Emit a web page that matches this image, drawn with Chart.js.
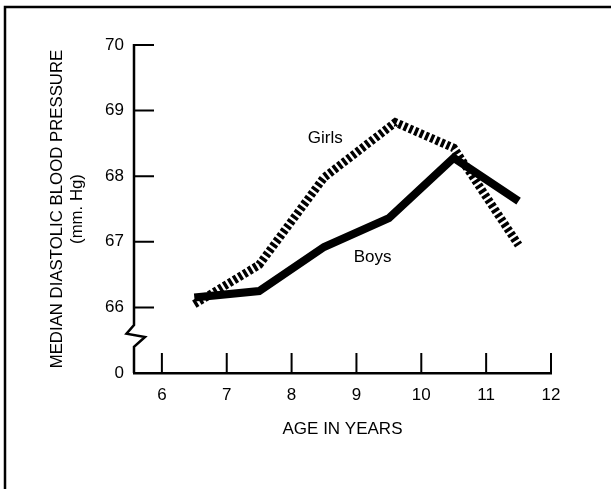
<!DOCTYPE html>
<html>
<head>
<meta charset="utf-8">
<script src="https://cdn.jsdelivr.net/npm/chart.js@4"></script>
<style>
  body{margin:0;background:#fff;}
  canvas{display:block;}
</style>
</head>
<body>
<canvas id="bpChart" width="611" height="489"></canvas>
<script>
// values (age in years, median diastolic pressure mm Hg)
const boysAges = [6.5, 7.5, 8.5, 9.5, 10.5, 11.5];
const boysPressure = [66.15, 66.25, 66.92, 67.36, 68.28, 67.62];
const girlsAges = [6.5, 7.5, 8.5, 9.6, 10.5, 11.5];
const girlsPressure = [66.05, 66.65, 67.98, 68.82, 68.43, 66.95];

const xTicks = [6, 7, 8, 9, 10, 11, 12];
const yTicks = [65, 66, 67, 68, 69, 70]; // 65 sits below the axis break, printed as "0"

const seriesLabels = [
  { text: 'Girls', x: 8.52, y: 68.58 },
  { text: 'Boys', x: 9.25, y: 66.76 }
];

const FONT = '"Liberation Sans", Arial, Helvetica, sans-serif';
const toPts = (xs, ys) => xs.map((x, i) => ({ x, y: ys[i] }));

// frame, broken y axis, inward ticks and in-plot labels
const decor = {
  id: 'decor',
  beforeDraw(chart){
    const ctx = chart.ctx;
    ctx.save();
    ctx.fillStyle = '#fff';
    ctx.fillRect(0, 0, chart.width, chart.height);
    ctx.strokeStyle = '#000';
    ctx.lineWidth = 2.5;
    ctx.beginPath();
    ctx.moveTo(5, chart.height);
    ctx.lineTo(5, 7);
    ctx.lineTo(chart.width, 7);
    ctx.stroke();
    ctx.restore();
  },
  afterDraw(chart){
    const ctx = chart.ctx;
    const xs = chart.scales.x, ys = chart.scales.y;
    const x0 = chart.chartArea.left;
    const yTop = ys.getPixelForValue(70);
    const y66 = ys.getPixelForValue(66);
    const yZero = ys.getPixelForValue(65);
    const span = yZero - y66;
    ctx.save();
    ctx.strokeStyle = '#000';
    ctx.lineWidth = 2.5;
    ctx.lineJoin = 'miter';
    // y axis with zig-zag break
    ctx.beginPath();
    ctx.moveTo(x0, yTop - 1);
    ctx.lineTo(x0, y66 + span * 0.27);
    ctx.lineTo(x0 - 7.5, y66 + span * 0.40);
    ctx.lineTo(x0 + 11, y66 + span * 0.45);
    ctx.lineTo(x0, y66 + span * 0.60);
    ctx.lineTo(x0, yZero);
    ctx.stroke();
    // inward tick marks
    ctx.lineWidth = 2;
    ctx.beginPath();
    yTicks.filter(v => v > 65).forEach(v => {
      const py = ys.getPixelForValue(v);
      ctx.moveTo(x0, py);
      ctx.lineTo(x0 + 20, py);
    });
    xTicks.forEach(v => {
      const px = xs.getPixelForValue(v);
      ctx.moveTo(px, yZero);
      ctx.lineTo(px, yZero - 20);
    });
    ctx.stroke();
    // series names
    ctx.fillStyle = '#000';
    ctx.font = '17px ' + FONT;
    ctx.textAlign = 'center';
    ctx.textBaseline = 'middle';
    seriesLabels.forEach(l => {
      ctx.fillText(l.text, xs.getPixelForValue(l.x), ys.getPixelForValue(l.y));
    });
    ctx.restore();
  }
};

const chart = new Chart(document.getElementById('bpChart').getContext('2d'), {
  type: 'line',
  data: {
    datasets: [
      {
        label: 'Girls',
        data: toPts(girlsAges, girlsPressure),
        borderColor: '#000',
        borderWidth: 8.5,
        borderDash: [3.4, 2.4],
        borderCapStyle: 'butt',
        pointRadius: 0,
        tension: 0,
        order: 0
      },
      {
        label: 'Boys',
        data: toPts(boysAges, boysPressure),
        borderColor: '#000',
        borderWidth: 8,
        borderCapStyle: 'butt',
        borderJoinStyle: 'miter',
        pointRadius: 0,
        tension: 0,
        order: 1
      }
    ]
  },
  options: {
    responsive: false,
    animation: false,
    layout: { padding: { left: 0, top: 45, right: 60, bottom: 0 } },
    plugins: { legend: { display: false }, tooltip: { enabled: false } },
    scales: {
      x: {
        type: 'linear',
        min: 5.57,
        max: 12,
        afterBuildTicks: s => { s.ticks = xTicks.map(v => ({ value: v })); },
        afterFit: s => { s.height = 116; },
        grid: { display: false, drawTicks: false },
        border: { display: true, color: '#000', width: 2.5 },
        ticks: { color: '#000', padding: 12, font: { family: FONT, size: 17 }, maxRotation: 0 },
        title: {
          display: true,
          text: 'AGE IN YEARS',
          color: '#000',
          font: { family: FONT, size: 17 },
          padding: { top: 0, bottom: 49 }
        }
      },
      y: {
        type: 'linear',
        min: 65,
        max: 70,
        afterBuildTicks: s => { s.ticks = yTicks.map(v => ({ value: v })); },
        afterFit: s => { s.width = 134; },
        grid: { display: false, drawTicks: false },
        border: { display: false },
        ticks: {
          color: '#000',
          padding: 10,
          font: { family: FONT, size: 17 },
          callback: v => v === 65 ? '0' : String(v)
        },
        title: {
          display: true,
          text: ['MEDIAN DIASTOLIC BLOOD PRESSURE', '(mm. Hg)'],
          color: '#000',
          font: { family: FONT, size: 16.8, lineHeight: 1.2 },
          padding: { top: 47, bottom: 0 }
        }
      }
    }
  },
  plugins: [decor]
});
</script>
</body>
</html>
